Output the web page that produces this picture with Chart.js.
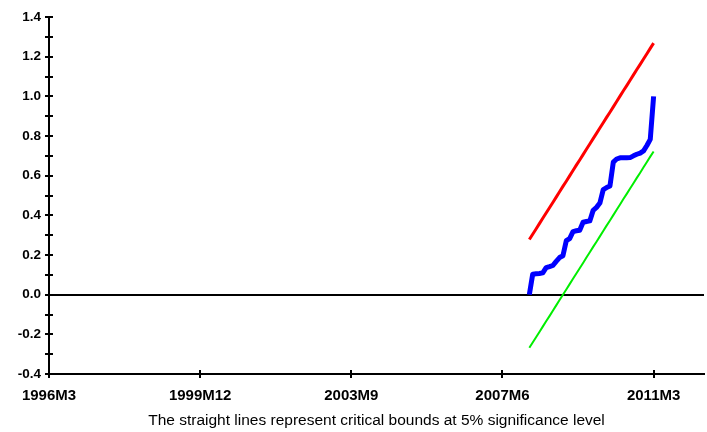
<!DOCTYPE html>
<html>
<head>
<meta charset="utf-8">
<script src="https://cdn.jsdelivr.net/npm/chart.js@4.4.1/dist/chart.umd.min.js"></script>
<style>
  html, body { margin: 0; padding: 0; background: #fff; }
  canvas { display: block; }
</style>
</head>
<body>
<canvas id="grafico" width="707" height="432"></canvas>
<script>
// Eixo mensal: 1996M3 ate 2012M6
const meses = [];
for (let a = 1996; a <= 2012; a++) {
    for (let m = 1; m <= 12; m++) {
        if (a === 1996 && m < 3) continue;
        if (a === 2012 && m > 6) break;
        meses.push(a + 'M' + m);
    }
}
const rotulosX = ['1996M3', '1999M12', '2003M9', '2007M6', '2011M3'];
const inicio = '2008M2';

// CUSUM of squares, 2008M2 .. 2011M3
const cusumsq = [0.000, 0.103, 0.105, 0.107, 0.110, 0.136, 0.141, 0.147, 0.168, 0.187,
    0.196, 0.272, 0.283, 0.318, 0.322, 0.325, 0.365, 0.369, 0.372, 0.425,
    0.440, 0.462, 0.530, 0.540, 0.548, 0.668, 0.684, 0.690, 0.690, 0.690,
    0.691, 0.700, 0.708, 0.714, 0.725, 0.752, 0.783, 1.000];
// Limites criticos 5%
const limiteSup = [0.278, 0.305, 0.331, 0.358, 0.385, 0.412, 0.438, 0.465, 0.492, 0.519,
    0.546, 0.572, 0.599, 0.626, 0.653, 0.679, 0.706, 0.733, 0.760, 0.787,
    0.813, 0.840, 0.867, 0.894, 0.920, 0.947, 0.974, 1.001, 1.028, 1.054,
    1.081, 1.108, 1.135, 1.161, 1.188, 1.215, 1.242, 1.268];
const limiteInf = [-0.268, -0.241, -0.215, -0.188, -0.161, -0.134, -0.108, -0.081, -0.054, -0.027,
    0.000, 0.026, 0.053, 0.080, 0.107, 0.133, 0.160, 0.187, 0.214, 0.241,
    0.267, 0.294, 0.321, 0.348, 0.374, 0.401, 0.428, 0.455, 0.482, 0.508,
    0.535, 0.562, 0.589, 0.615, 0.642, 0.669, 0.696, 0.722];

const yMin = -0.4, yMax = 1.4;

function serie(valores) {
    const pos = meses.indexOf(inicio);
    return meses.map((_, i) => (i >= pos && i - pos < valores.length) ? valores[i - pos] : null);
}

// Marcas de escala que cruzam o eixo
const marcasInternas = {
    id: 'marcasInternas',
    afterDraw(chart) {
        const { ctx, chartArea, scales } = chart;
        ctx.save();
        ctx.strokeStyle = '#000';
        ctx.lineWidth = 2;
        scales.y.ticks.forEach(t => {
            const y = Math.round(scales.y.getPixelForValue(t.value));
            ctx.beginPath();
            ctx.moveTo(chartArea.left, y);
            ctx.lineTo(chartArea.left + 4, y);
            ctx.stroke();
        });
        rotulosX.forEach(r => {
            const x = Math.round(scales.x.getPixelForValue(meses.indexOf(r)));
            ctx.beginPath();
            ctx.moveTo(x, chartArea.bottom);
            ctx.lineTo(x, chartArea.bottom - 4);
            ctx.stroke();
        });
        ctx.restore();
    }
};

new Chart(document.getElementById('grafico').getContext('2d'), {
    type: 'line',
    data: {
        labels: meses,
        datasets: [
            { data: serie(limiteSup), borderColor: '#ff0000', borderWidth: 3 },
            { data: serie(limiteInf), borderColor: '#00ee00', borderWidth: 2 },
            { data: serie(cusumsq), borderColor: '#0000ff', borderWidth: 5, borderJoinStyle: 'round' }
        ]
    },
    options: {
        responsive: false,
        animation: false,
        elements: { point: { radius: 0 }, line: { tension: 0, fill: false } },
        layout: { padding: { top: 17, right: 3, left: 0, bottom: 0 } },
        plugins: { legend: { display: false }, tooltip: { enabled: false } },
        scales: {
            x: {
                type: 'category',
                offset: false,
                afterFit(scale) { scale.height = 58; },
                border: { color: '#000', width: 2 },
                grid: {
                    drawOnChartArea: false,
                    tickLength: 4,
                    tickColor: '#000',
                    lineWidth: 2
                },
                ticks: {
                    autoSkip: false,
                    maxRotation: 0,
                    padding: 9,
                    color: '#000',
                    font: { family: '"Liberation Sans", Arial, sans-serif', size: 15, weight: 'bold' },
                    callback(v, i) {
                        const r = meses[i];
                        return rotulosX.includes(r) ? r : null;
                    }
                },
                title: {
                    display: true,
                    text: 'The straight lines represent critical bounds at 5% significance level',
                    color: '#000',
                    font: { family: '"Liberation Sans", Arial, sans-serif', size: 15.5 },
                    padding: { top: 0, bottom: 2 }
                }
            },
            y: {
                min: yMin,
                max: yMax,
                afterFit(scale) { scale.width = 49; },
                border: { color: '#000', width: 2 },
                grid: {
                    color: c => (c.tick && Math.abs(c.tick.value) < 1e-9) ? '#000' : 'rgba(0,0,0,0)',
                    lineWidth: 2,
                    tickColor: '#000',
                    tickLength: 4
                },
                ticks: {
                    stepSize: 0.1,
                    padding: 4,
                    color: '#000',
                    font: { family: '"Liberation Sans", Arial, sans-serif', size: 13.5, weight: 'bold' },
                    callback(v) {
                        const d = Math.round(v * 10);
                        return d % 2 === 0 ? (d / 10).toFixed(1) : '';
                    }
                }
            }
        }
    },
    plugins: [marcasInternas]
});
</script>
</body>
</html>
